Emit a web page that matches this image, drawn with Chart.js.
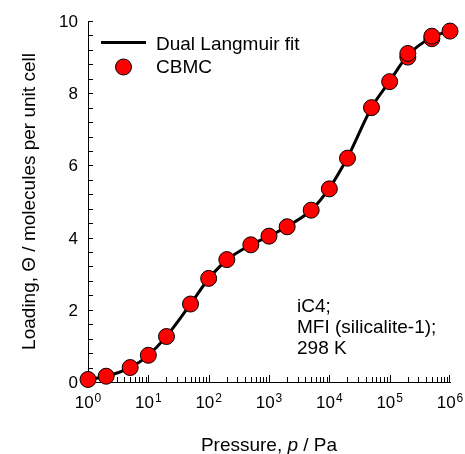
<!DOCTYPE html>
<html>
<head>
<meta charset="utf-8">
<script src="https://cdn.jsdelivr.net/npm/chart.js@4"></script>
<style>
  html, body { margin: 0; padding: 0; background: #fff; }
</style>
</head>
<body>
<canvas id="isotherm" width="465" height="454"></canvas>
<script>
// CBMC simulation points, pressure in Pa and loading in molecules per unit cell
const cbmcPressure = [1, 2, 5, 10, 20, 50, 100, 200, 500, 1e3, 2e3, 5e3, 1e4, 2e4, 5e4, 1e5, 2e5, 2e5, 5e5, 5e5, 1e6];
const cbmcLoading = [0.07, 0.16, 0.40, 0.74, 1.26, 2.16, 2.87, 3.39, 3.80, 4.04, 4.30, 4.76, 5.35, 6.20, 7.60, 8.32, 9.00, 9.10, 9.51, 9.58, 9.72];

// dual Langmuir fit curve
const fitPressure = [1, 2, 5, 10, 20, 50, 100, 200, 500, 1e3, 2e3, 5e3, 1e4, 2e4, 5e4, 1e5, 2e5, 5e5, 1e6];
const fitLoading = [0.07, 0.16, 0.40, 0.74, 1.27, 2.16, 2.86, 3.38, 3.80, 4.04, 4.31, 4.76, 5.37, 6.22, 7.60, 8.33, 9.05, 9.55, 9.73];

// axis ticks
const xDecades = [0, 1, 2, 3, 4, 5, 6];
const yLabels = [0, 2, 4, 6, 8, 10];
const yMinorStep = 0.4;

const annotation = ["iC4;", "MFI (silicalite-1);", "298 K"];

const FONT = '"Liberation Sans", Arial, sans-serif';

const toPoints = (xs, ys) => xs.map((x, i) => ({ x: x, y: ys[i] }));

const axesPlugin = {
  id: "axesAndText",
  beforeDatasetsDraw(chart) {
    const ctx = chart.ctx;
    const xs = chart.scales.x;
    const ys = chart.scales.y;
    const area = chart.chartArea;
    ctx.save();
    ctx.strokeStyle = "#000";
    ctx.lineWidth = 1;
    ctx.beginPath();
    // x ticks point up into the plot
    for (let d = 0; d < 6; d++) {
      for (let m = 1; m <= 9; m++) {
        const px = Math.round(xs.getPixelForValue(m * Math.pow(10, d))) + 0.5;
        const len = m === 1 ? 7 : 5;
        ctx.moveTo(px, area.bottom);
        ctx.lineTo(px, area.bottom - len);
      }
    }
    const pxEnd = Math.round(xs.getPixelForValue(1e6)) - 0.5;
    ctx.moveTo(pxEnd, area.bottom);
    ctx.lineTo(pxEnd, area.bottom - 7);
    // y ticks point right
    for (let v = 0; v <= 10.001; v += yMinorStep) {
      const py = Math.round(ys.getPixelForValue(v)) + 0.5;
      ctx.moveTo(area.left, py);
      ctx.lineTo(area.left + 5, py);
    }
    ctx.stroke();
    ctx.restore();
  },
  afterDraw(chart) {
    const ctx = chart.ctx;
    const xs = chart.scales.x;
    const ys = chart.scales.y;
    const area = chart.chartArea;
    ctx.save();
    ctx.fillStyle = "#000";

    // y tick labels
    ctx.font = "17px " + FONT;
    ctx.textAlign = "right";
    ctx.textBaseline = "alphabetic";
    yLabels.forEach(v => {
      ctx.fillText(String(v), area.left - 10, ys.getPixelForValue(v) + 6);
    });

    // x tick labels as powers of ten
    ctx.textAlign = "left";
    xDecades.forEach(e => {
      const px = xs.getPixelForValue(Math.pow(10, e));
      ctx.font = "17px " + FONT;
      const wBase = ctx.measureText("10").width;
      ctx.font = "12px " + FONT;
      const wExp = ctx.measureText(String(e)).width;
      const x0 = px - (wBase + wExp + 1) / 2;
      ctx.font = "17px " + FONT;
      ctx.fillText("10", x0, area.bottom + 26);
      ctx.font = "12px " + FONT;
      ctx.fillText(String(e), x0 + wBase + 1, area.bottom + 20);
    });

    // x axis title with italic p
    const parts = [["Pressure, ", "19px "], ["p", "italic 19px "], [" / Pa", "19px "]];
    let total = 0;
    parts.forEach(p => { ctx.font = p[1] + FONT; total += ctx.measureText(p[0]).width; });
    let tx = (area.left + area.right) / 2 - total / 2;
    parts.forEach(p => {
      ctx.font = p[1] + FONT;
      ctx.fillText(p[0], tx, 450.5);
      tx += ctx.measureText(p[0]).width;
    });

    // y axis title
    ctx.save();
    ctx.translate(34.5, (area.top + area.bottom) / 2);
    ctx.rotate(-Math.PI / 2);
    ctx.font = "19px " + FONT;
    ctx.textAlign = "center";
    ctx.fillText("Loading, \u0398 / molecules per unit cell", 0, 0);
    ctx.restore();

    // legend
    ctx.strokeStyle = "#000";
    ctx.lineWidth = 3;
    ctx.beginPath();
    ctx.moveTo(101, 42.5);
    ctx.lineTo(146, 42.5);
    ctx.stroke();
    ctx.beginPath();
    ctx.arc(123.5, 67, 8, 0, Math.PI * 2);
    ctx.fillStyle = "#ff0000";
    ctx.fill();
    ctx.lineWidth = 1;
    ctx.stroke();
    ctx.fillStyle = "#000";
    ctx.font = "19px " + FONT;
    ctx.textAlign = "left";
    ctx.fillText("Dual Langmuir fit", 156, 49.5);
    ctx.fillText("CBMC", 156, 73);

    // conditions note
    annotation.forEach((line, i) => {
      ctx.fillText(line, 297, 312 + i * 21);
    });
    ctx.restore();
  }
};

new Chart(document.getElementById("isotherm"), {
  type: "scatter",
  data: {
    datasets: [
      {
        label: "CBMC",
        data: toPoints(cbmcPressure, cbmcLoading),
        showLine: false,
        pointRadius: 8,
        pointBackgroundColor: "#ff0000",
        pointBorderColor: "#000",
        pointBorderWidth: 1,
        order: 1
      },
      {
        label: "Dual Langmuir fit",
        data: toPoints(fitPressure, fitLoading),
        showLine: true,
        borderColor: "#000",
        borderWidth: 3,
        pointRadius: 0,
        cubicInterpolationMode: "monotone",
        order: 2
      }
    ]
  },
  options: {
    responsive: false,
    animation: false,
    clip: false,
    layout: { padding: { left: 88, right: 15, top: 21, bottom: 72 } },
    plugins: { legend: { display: false }, tooltip: { enabled: false } },
    scales: {
      x: {
        type: "logarithmic",
        min: 1,
        max: 1e6,
        grid: { display: false, drawTicks: false },
        border: { display: true, color: "#000", width: 1 },
        ticks: { display: false },
        afterFit: s => { s.height = 0; }
      },
      y: {
        type: "linear",
        min: 0,
        max: 10,
        grid: { display: false, drawTicks: false },
        border: { display: true, color: "#000", width: 1 },
        ticks: { display: false },
        afterFit: s => { s.width = 0; }
      }
    }
  },
  plugins: [axesPlugin]
});
</script>
</body>
</html>
